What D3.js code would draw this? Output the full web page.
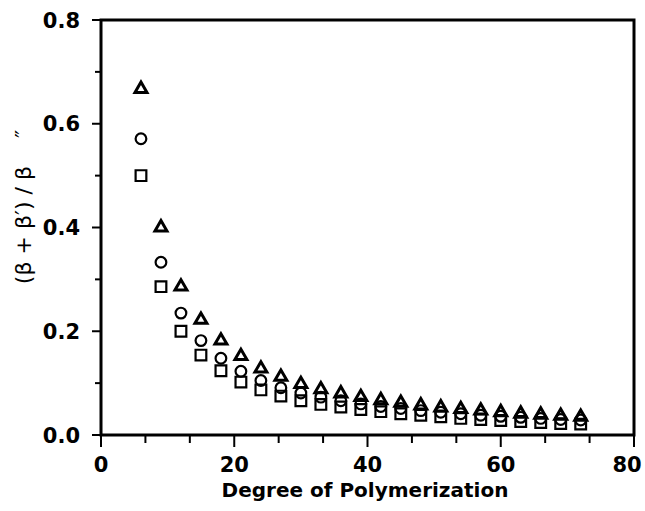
<!DOCTYPE html>
<html><head><meta charset="utf-8">
<script src="https://cdn.jsdelivr.net/npm/d3@7"></script>
<style>body{margin:0;background:#fff}svg{display:block}</style>
</head><body>
<svg id="c" width="645" height="511"></svg>
<script>
const degree = [6,9,12,15,18,21,24,27,30,33,36,39,42,45,48,51,54,57,60,63,66,69,72];
const triangles = [.667,.400,.286,.222,.182,.152,.128,.112,.098,.088,.080,.073,.067,.062,.057,.053,.050,.047,.044,.041,.039,.037,.035];
const circles   = [.571,.333,.235,.182,.148,.123,.105,.091,.081,.073,.066,.060,.055,.051,.047,.044,.041,.038,.036,.034,.032,.030,.029];
const squares   = [.500,.286,.200,.154,.124,.102,.087,.075,.066,.059,.054,.049,.045,.041,.038,.035,.032,.030,.028,.026,.024,.022,.021];
const xTickLabels = [0,20,40,60,80];
const yTickLabels = [0.0,0.2,0.4,0.6,0.8];

const svg = d3.select("#c");
const L=101, R=634, T=20, B=435;
const x = d3.scaleLinear().domain([0,80]).range([L,R]);
const y = d3.scaleLinear().domain([0,0.8]).range([B,T]);
const font = "'DejaVu Sans', Verdana, sans-serif";

// x ticks
const xMinor = d3.range(0,81,20/3).map(v=>Math.round(v*1000)/1000);
svg.append("g").selectAll("line").data(xMinor).join("line")
  .attr("x1",d=>x(d)).attr("x2",d=>x(d)).attr("y1",B)
  .attr("y2",d=>B + (Math.abs(d%20)<0.01 || Math.abs(d%20-20)<0.01 ? 12 : 8))
  .attr("stroke","#000").attr("stroke-width",2);
svg.append("g").selectAll("text").data(xTickLabels).join("text")
  .attr("x",d=>Math.min(x(d), 627)).attr("y",472).attr("text-anchor","middle")
  .attr("font-family",font).attr("font-weight","bold").attr("font-size",21)
  .text(d=>d);

// y ticks
const yAll = d3.range(0,0.801,0.1);
svg.append("g").selectAll("line").data(yAll).join("line")
  .attr("x1",L).attr("y1",d=>y(d)).attr("y2",d=>y(d))
  .attr("x2",(d,i)=> L - (i%2===0 ? 9 : 6))
  .attr("stroke","#000").attr("stroke-width",2);
svg.append("g").selectAll("text").data(yTickLabels).join("text")
  .attr("x",80).attr("y",d=>y(d)).attr("dy","0.36em").attr("text-anchor","end")
  .attr("font-family",font).attr("font-weight","bold").attr("font-size",21)
  .text(d=>d.toFixed(1));

// frame
svg.append("rect").attr("x",L).attr("y",T).attr("width",R-L).attr("height",B-T)
  .attr("fill","none").attr("stroke","#000").attr("stroke-width",3);

// axis titles
svg.append("text").attr("x",365).attr("y",497).attr("text-anchor","middle")
  .attr("font-family",font).attr("font-weight","bold").attr("font-size",20)
  .text("Degree of Polymerization");
svg.append("text").attr("transform","translate(31,207) rotate(-90)")
  .attr("text-anchor","middle").attr("font-family",font).attr("font-size",22)
  .attr("xml:space","preserve")
  .text("(β + β′) / β    ″");

// markers
function plot(vals, type, size, sw){
  const sym = d3.symbol().type(type).size(size);
  svg.append("g").selectAll("path").data(vals).join("path")
    .attr("transform",(d,i)=>`translate(${x(degree[i])},${y(d)})`)
    .attr("d",sym).attr("fill","none").attr("stroke","#000").attr("stroke-width",sw);
}
plot(squares, d3.symbolSquare, 115, 2.2);
plot(circles, d3.symbolCircle, 90, 2.2);
plot(triangles, d3.symbolTriangle, 62, 3);
</script>
</body></html>
